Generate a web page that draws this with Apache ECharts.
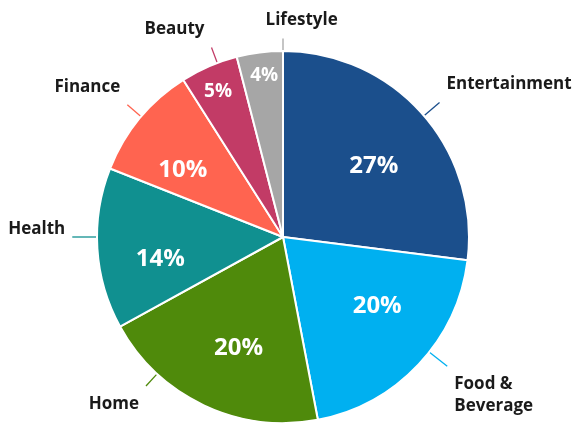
<!DOCTYPE html>
<html><head><meta charset="utf-8">
<script src="https://cdn.jsdelivr.net/npm/echarts@6/dist/echarts.min.js"></script>
<style>html,body{margin:0;padding:0;background:#fff}#c{width:576px;height:427px}</style>
</head><body><div id="c"></div>
<script>
const categories = ['Entertainment', 'Food &\nBeverage', 'Home', 'Health', 'Finance', 'Beauty', 'Lifestyle'];
const values = [27, 20, 20, 14, 10, 5, 4];
const colors = ['#1B4F8C', '#00B0F0', '#4F8A0B', '#109090', '#FF6450', '#C23B66', '#A6A6A6'];
const smallThreshold = 6;

// layout nudges (px) relative to ECharts default label placement
const nameNudge = [[7, -19], [19, 20], [-53, -11], [-16, -18], [-7, -21], [21, -31], [85, -16]];
const pctNudge = [[0, 9], [6, -14], [7, 2], [-2, 15], [-7, 10], [1, 7], [2, 3]];

const chart = echarts.init(document.getElementById('c'));
const font = '"Open Sans", sans-serif';
const center = [283, 237];
const R = 186;
const gap = 7;

const base = categories.map((c, i) => ({ name: c, value: values[i], itemStyle: { color: colors[i] } }));

function nameLayout(p) {
  const n = nameNudge[p.dataIndex];
  const r = p.labelRect;
  const x0 = r.x + n[0], y0 = r.y + n[1], x1 = x0 + r.width, y1 = y0 + r.height;
  const ex = Math.min(Math.max(center[0], x0 - gap), x1 + gap);
  const ey = Math.min(Math.max(center[1], y0 - gap), y1 + gap);
  const vx = ex - center[0], vy = ey - center[1], L = Math.hypot(vx, vy);
  const sx = center[0] + R * vx / L, sy = center[1] + R * vy / L;
  return { dx: n[0], dy: n[1], labelLinePoints: [[sx, sy], [ex, ey], [ex, ey]] };
}
function pctLayout(p) {
  const n = pctNudge[p.dataIndex];
  return { dx: n[0], dy: n[1] };
}

chart.setOption({
  animation: false,
  series: [
    {
      type: 'pie', center, radius: R, startAngle: 90, clockwise: true,
      data: base.map((d, i) => ({ ...d, labelLine: { lineStyle: { color: colors[i] } } })),
      itemStyle: { borderColor: '#fff', borderWidth: 2 },
      label: { show: true, position: 'outside', formatter: '{b}', fontFamily: font, fontWeight: 'bold', fontSize: 17, color: '#1a1a1a', lineHeight: 22 },
      labelLine: { show: true, length: 16, length2: 0, lineStyle: { width: 1.3 } },
      labelLayout: nameLayout,
      silent: true
    },
    {
      type: 'pie', center, radius: 236, startAngle: 90, clockwise: true,
      data: base.map(d => ({ name: d.name, value: d.value, label: { show: d.value >= smallThreshold } })),
      itemStyle: { color: 'rgba(0,0,0,0)' },
      label: { position: 'inside', formatter: '{c}%', fontFamily: font, fontWeight: 'bold', fontSize: 24, color: '#fff' },
      labelLine: { show: false }, labelLayout: pctLayout, silent: true, z: 5
    },
    {
      type: 'pie', center, radius: 326, startAngle: 90, clockwise: true,
      data: base.map(d => ({ name: d.name, value: d.value, label: { show: d.value < smallThreshold } })),
      itemStyle: { color: 'rgba(0,0,0,0)' },
      label: { position: 'inside', formatter: '{c}%', fontFamily: font, fontWeight: 'bold', fontSize: 19, color: '#fff' },
      labelLine: { show: false }, labelLayout: pctLayout, silent: true, z: 5
    }
  ]
});
</script></body></html>
